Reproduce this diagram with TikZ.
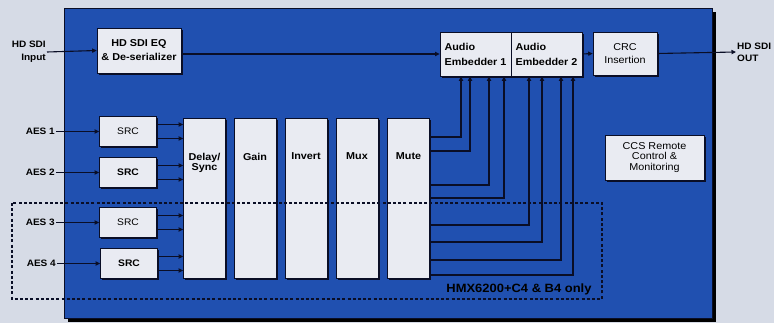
\documentclass[tikz,border=0pt]{standalone}
\usepackage{fontspec}
\setmainfont{Liberation Sans}[FakeStretch=1.08]
\usetikzlibrary{arrows.meta}
\definecolor{bg}{RGB}{214,219,230}
\definecolor{bluebox}{RGB}{32,80,176}
\definecolor{boxfill}{RGB}{233,235,242}
\definecolor{wire}{RGB}{10,14,38}
\tikzset{
  box/.style={draw=wire, line width=0.6pt, fill=boxfill, inner sep=0pt,
    preaction={fill=wire, transform canvas={xshift=1.6pt,yshift=-1.6pt}}},
  lbl/.style={inner sep=0pt, font=\bfseries\fontsize{10}{10.5}\selectfont, align=center},
  wirearr/.style={draw=wire, line width=1.1pt, -{Triangle[length=4.5pt,width=4.2pt]}},
  blockbox/.style={box, minimum width=42pt, minimum height=160pt},
  srcbox/.style={box, minimum width=57pt, minimum height=30pt, font=\fontsize{9.5}{10}\selectfont},
  aeslbl/.style={inner sep=1pt, anchor=east, font=\bfseries\fontsize{9.3}{10}\selectfont},
}
\begin{document}
\begin{tikzpicture}[x=1pt,y=-1pt]
\fill[bg] (0,0) rectangle (774,323);
\useasboundingbox (0,0) rectangle (774,323);
% main blue panel with shadow
\fill[black] (68,12) rectangle (716,322);
\filldraw[fill=bluebox, draw=wire, line width=0.5pt] (64,8) rectangle (712,318);

% top row
\node[box, minimum width=84pt, minimum height=45pt, font=\bfseries\fontsize{10}{14}\selectfont, align=center] (eq) at (139,50.5) {HD SDI EQ\\\& De-serializer};
\node[box, minimum width=71pt, minimum height=44pt, font=\bfseries\fontsize{10}{15}\selectfont, align=left] (emb1) at (475.5,54) {Audio\\Embedder 1};
\node[box, minimum width=71pt, minimum height=44pt, font=\bfseries\fontsize{10}{15}\selectfont, align=left] (emb2) at (546.5,54) {Audio\\Embedder 2};
\node[box, minimum width=64pt, minimum height=43pt, font=\fontsize{10}{13}\selectfont, align=center] (crc) at (625,53.5) {CRC\\Insertion};
\node[box, minimum width=99pt, minimum height=45pt, font=\fontsize{10}{10.8}\selectfont, align=center] (ccs) at (654.5,157.5) {CCS Remote\\Control \&\\Monitoring};

% SRC boxes
\node[srcbox] (src1) at (128,131.5) {SRC};
\node[srcbox, font=\bfseries\fontsize{9.5}{10}\selectfont] (src2) at (128,172.5) {SRC};
\node[srcbox] (src3) at (128,222.5) {SRC};
\node[srcbox, font=\bfseries\fontsize{9.5}{10}\selectfont] (src4) at (129,263.5) {SRC};

% processing blocks
\node[blockbox] (delay) at (204.5,198) {};
\node[blockbox] (gain) at (255,198) {};
\node[blockbox] (invert) at (306,198) {};
\node[blockbox] (mux) at (357,198) {};
\node[blockbox] (mute) at (408.5,198) {};
\node[lbl, anchor=north] at ([yshift=-35pt]delay.north) {Delay/\\Sync};
\node[lbl, anchor=north] at ([yshift=-35pt]gain.north) {Gain};
\node[lbl, anchor=north] at ([yshift=-35pt]invert.north) {Invert};
\node[lbl, anchor=north] at ([yshift=-35pt]mux.north) {Mux};
\node[lbl, anchor=north] at ([yshift=-35pt]mute.north) {Mute};

% external labels
\node[inner sep=1pt, anchor=east, align=right, font=\bfseries\fontsize{9.3}{13}\selectfont] (in) at (47,52) {HD SDI\\Input};
\node[inner sep=1pt, anchor=west, align=left, font=\bfseries\fontsize{9.3}{12}\selectfont] (out) at (736,52) {HD SDI\\OUT};
\node[aeslbl] (aes1) at (56,131.5) {AES 1};
\node[aeslbl] (aes2) at (56,172.5) {AES 2};
\node[aeslbl] (aes3) at (56,222.5) {AES 3};
\node[aeslbl] (aes4) at (57,263.5) {AES 4};

% main signal path
\draw[wirearr] (in.east) -- (eq.west);
\draw[wirearr] (eq.east |- emb1.west) -- (emb1.west);
\draw[wirearr] (emb2.east) -- (crc.west);
\draw[wirearr] (crc.east) -- (out.west);

% AES inputs
\foreach \k in {1,2,3,4} {
  \draw[wirearr] (aes\k.east) -- (src\k.west);
  \draw[wirearr] ([yshift=7pt]src\k.east) -- ([yshift=7pt]src\k.east -| delay.west);
  \draw[wirearr] ([yshift=-7pt]src\k.east) -- ([yshift=-7pt]src\k.east -| delay.west);
}

% Mute outputs to embedders
\foreach \yy/\xx/\ee [count=\i] in {137/461/emb1,151/470/emb1,185/489/emb1,198/504/emb1,225/529/emb2,242/542/emb2,260/561/emb2,275/573/emb2} {
  \coordinate (h\i) at (0,\yy);
  \coordinate (v\i) at (\xx,0);
  \draw[wirearr] (mute.east |- h\i) -| (\ee.south -| v\i);
}

% option region
\draw[draw=wire, line width=1.1pt, dash pattern=on 3pt off 2.2pt] (12,203) rectangle (602,299);
\node[inner sep=0pt, font=\bfseries\fontsize{12}{13}\selectfont] (opt) at (519,289) {HMX6200+C4 \& B4 only};
\end{tikzpicture}
\end{document}
